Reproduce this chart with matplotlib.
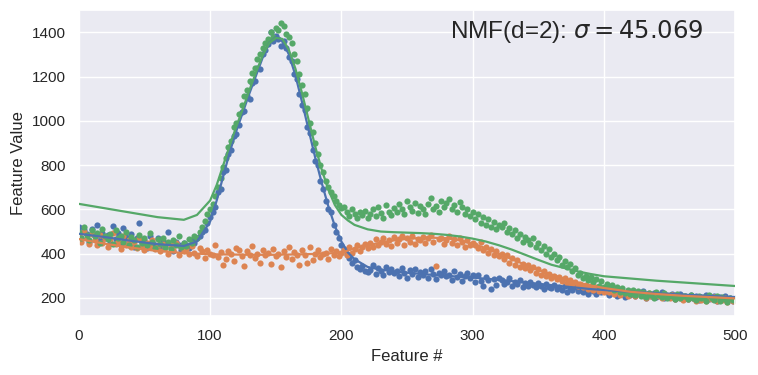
import numpy as np
import matplotlib.pyplot as plt
import seaborn as sns

sns.set_theme()
plt.rcParams['font.family'] = ['Liberation Sans', 'DejaVu Sans']

# scatter samples (every 2nd feature)
dot_x = list(range(0, 501, 2))

blue_dots = [
    520, 470, 505, 488, 455, 512, 478, 530, 462, 495, 470,
    486, 450, 525, 468, 492, 440, 515, 475, 458, 488,
    430, 470, 540, 448, 462, 425, 478, 455, 440, 470,
    420, 458, 445, 500, 432, 410, 452, 438, 418, 446,
    440, 425, 462, 450, 470, 478, 500, 505, 540, 565,
    590, 610, 680, 690, 770, 780, 850, 870, 930, 940,
    980, 1040, 1045, 1110, 1100, 1170, 1180, 1240, 1235, 1300,
    1320, 1345, 1400, 1360, 1385, 1370, 1340, 1360, 1330, 1290,
    1270, 1210, 1190, 1120, 1070, 1050, 970, 945, 870, 820,
    800, 730, 690, 640, 600, 590, 530, 500, 470, 440,
    420, 400, 380, 360, 370, 340, 330, 345, 320, 318,
    325, 350, 310, 335, 320, 305, 340, 318, 330, 312,
    320, 300, 335, 315, 290, 325, 308, 330, 296, 318,
    305, 320, 292, 330, 310, 285, 315, 302, 320, 298,
    305, 283, 320, 295, 310, 277, 300, 315, 290, 303,
    270, 305, 278, 252, 295, 280, 240, 285, 258, 290,
    282, 265, 270, 290, 255, 272, 262, 280, 250, 268,
    255, 272, 260, 248, 268, 252, 240, 262, 250, 245,
    258, 240, 250, 236, 255, 228, 245, 238, 250, 232,
    240, 228, 235, 220, 242, 230, 218, 236, 225, 230,
    228, 215, 232, 222, 210, 226, 218, 205, 230, 215,
    220, 208, 225, 212, 230, 200, 218, 210, 222, 205,
    212, 225, 200, 215, 205, 220, 195, 210, 218, 200,
    208, 195, 215, 200, 210, 190, 205, 198, 212, 195,
    200, 210, 188, 205, 195, 208, 190, 200, 185, 198,
]

orange_dots = [
    480, 455, 500, 470, 445, 490, 462, 438, 485, 450, 470,
    430, 468, 495, 445, 455, 420, 478, 440, 460, 432,
    455, 425, 470, 440, 415, 450, 432, 462, 420, 440,
    410, 445, 425, 400, 438, 418, 450, 395, 428, 410,
    420, 398, 435, 405, 388, 425, 410, 380, 415, 400,
    395, 440, 385, 408, 350, 375, 412, 398, 365, 425,
    418, 390, 345, 410, 395, 435, 380, 400, 360, 415,
    392, 405, 355, 420, 388, 398, 340, 412, 385, 430,
    375, 408, 392, 350, 418, 395, 360, 430, 372, 400,
    415, 385, 398, 405, 378, 420, 395, 410, 388, 402,
    415, 395, 430, 405, 420, 440, 410, 432, 445, 425,
    450, 430, 465, 440, 455, 470, 445, 460, 435, 475,
    450, 465, 480, 440, 470, 455, 478, 445, 468, 460,
    475, 450, 470, 485, 455, 345, 468, 472, 445, 462,
    478, 450, 465, 440, 470, 455, 430, 460, 438, 450,
    440, 425, 455, 415, 432, 405, 420, 395, 410, 390,
    400, 375, 392, 360, 380, 350, 370, 342, 355, 335,
    348, 325, 340, 315, 330, 305, 320, 300, 310, 292,
    300, 285, 295, 275, 288, 268, 280, 262, 272, 255,
    265, 250, 258, 242, 255, 238, 248, 232, 245, 228,
    240, 225, 235, 218, 232, 215, 228, 222, 210, 225,
    220, 208, 225, 212, 218, 200, 222, 210, 205, 215,
    210, 198, 215, 205, 200, 212, 195, 208, 202, 190,
    205, 195, 210, 198, 188, 205, 192, 200, 185, 198,
    195, 205, 185, 200, 190, 198, 182, 195, 188, 192,
]

green_dots = [
    500, 470, 520, 485, 460, 505, 478, 495, 450, 512, 480,
    465, 490, 445, 505, 470, 482, 455, 498, 440, 475,
    460, 430, 485, 450, 472, 440, 495, 455, 425, 468,
    445, 470, 430, 455, 420, 462, 440, 478, 430, 450,
    435, 465, 448, 480, 470, 500, 520, 548, 580, 600,
    625, 660, 700, 740, 790, 830, 880, 910, 970, 990,
    1030, 1070, 1110, 1140, 1180, 1215, 1240, 1280, 1300, 1330,
    1350, 1370, 1400, 1380, 1420, 1410, 1440, 1430, 1390, 1380,
    1350, 1300, 1270, 1210, 1160, 1120, 1060, 990, 950, 900,
    850, 800, 770, 730, 700, 680, 660, 640, 620, 605,
    610, 590, 570, 600, 580, 560, 590, 575, 595, 560,
    580, 600, 570, 610, 585, 560, 620, 590, 575, 605,
    590, 625, 600, 580, 640, 610, 595, 630, 585, 615,
    600, 580, 625, 650, 600, 615, 590, 640, 610, 630,
    645, 600, 620, 590, 635, 610, 580, 600, 570, 590,
    555, 580, 540, 565, 530, 555, 520, 545, 510, 530,
    520, 540, 500, 515, 490, 505, 470, 490, 455, 475,
    460, 445, 470, 430, 450, 415, 435, 400, 420, 385,
    400, 370, 385, 350, 365, 340, 355, 320, 335, 305,
    315, 290, 300, 280, 295, 270, 285, 255, 275, 250,
    262, 245, 258, 235, 250, 228, 245, 222, 238, 218,
    235, 215, 230, 210, 228, 205, 222, 212, 200, 225,
    215, 205, 222, 198, 212, 208, 195, 218, 202, 210,
    208, 195, 215, 200, 190, 210, 198, 205, 188, 212,
    200, 192, 210, 185, 205, 195, 182, 200, 190, 195,
]

# NMF reconstructions
line_x = [0, 20, 40, 60, 80, 90, 100, 105, 110, 115, 120, 125, 130, 135, 140,
          145, 150, 155, 160, 165, 170, 175, 180, 185, 190, 195, 200, 205, 210,
          220, 230, 240, 250, 260, 270, 280, 290, 300, 310, 320, 330, 340, 350,
          360, 370, 380, 390, 400, 420, 440, 460, 480, 500]

blue_line = [490, 475, 458, 443, 435, 455, 545, 640, 750, 860, 955, 1040, 1125,
             1205, 1285, 1350, 1378, 1360, 1300, 1205, 1085, 960, 835, 720, 615,
             525, 455, 405, 375, 340, 328, 320, 314, 309, 304, 300, 296, 292,
             287, 282, 276, 270, 264, 258, 252, 246, 240, 236, 228, 221, 215,
             209, 204]

orange_line = [466, 445, 427, 412, 403, 400, 398, 397, 397, 396, 396, 395, 395,
               395, 395, 395, 395, 396, 396, 397, 397, 398, 399, 400, 401, 403,
               406, 414, 424, 438, 450, 460, 467, 471, 472, 470, 460, 445, 425,
               400, 375, 350, 327, 305, 287, 270, 256, 245, 228, 218, 210, 204,
               198]

green_line = [625, 605, 585, 565, 553, 575, 640, 710, 800, 890, 975, 1055, 1140,
              1220, 1295, 1350, 1375, 1370, 1320, 1235, 1125, 1005, 885, 780, 690,
              620, 575, 550, 530, 510, 500, 497, 495, 493, 490, 485, 478, 468,
              455, 438, 418, 395, 372, 350, 335, 320, 308, 298, 288, 278, 270,
              262, 254]

colors = sns.color_palette()[:3]

fig = plt.figure(figsize=(7.58, 3.75), dpi=100)
ax = fig.add_axes([0.104, 0.157, 0.866, 0.816])

for dots, c in zip([blue_dots, orange_dots, green_dots], colors):
    ax.scatter(dot_x, dots, s=20, color=c, linewidths=0, zorder=2)
for line, c in zip([blue_line, orange_line, green_line], colors):
    ax.plot(line_x, line, color=c, lw=1.6, zorder=3)

ax.set_xlim(0, 500)
ax.set_ylim(118, 1500)
ax.set_xlabel('Feature #')
ax.set_ylabel('Feature Value')
ax.text(0.952, 0.975, r'NMF(d=2): $\sigma = 45.069$', transform=ax.transAxes,
        ha='right', va='top', fontsize=17.5)

fig.savefig('out.png', dpi=100)
